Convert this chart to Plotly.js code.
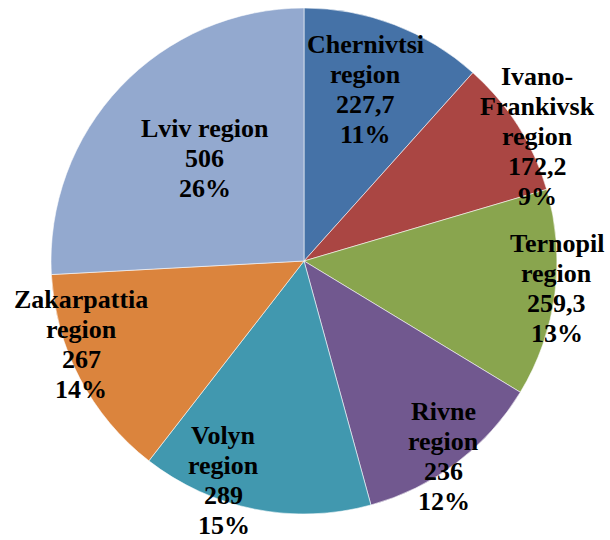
<!DOCTYPE html>
<html>
<head>
<meta charset="utf-8">
<script src="https://cdn.plot.ly/plotly-3.0.1.min.js"></script>
<style>
html,body{margin:0;padding:0;background:#fff;}
#chart{width:610px;height:540px;}
</style>
</head>
<body>
<div id="chart"></div>
<script>
// ---- data ----
var regionNames = ["Chernivtsi region", "Ivano-Frankivsk region", "Ternopil region", "Rivne region", "Volyn region", "Zakarpattia region", "Lviv region"];
var regionValues = [227.7, 172.2, 259.3, 236, 289, 267, 506];
var percentLabels = ["11%", "9%", "13%", "12%", "15%", "14%", "26%"];
// label text lines as printed in the picture
var nameLines = [["Chernivtsi", "region"], ["Ivano-", "Frankivsk", "region"], ["Ternopil", "region"], ["Rivne", "region"], ["Volyn", "region"], ["Zakarpattia", "region"], ["Lviv region"]];

// ---- style ----
var sliceColors = ["#4572A7", "#AA4643", "#89A54E", "#71588F", "#4198AF", "#DB843D", "#93A9CF"];
var labelRadius = [0.72, 1.045, 1.005, 0.95, 0.925, 0.94, 0.565]; // fraction of pie radius
var labelNudge = [-1.1, 4.1, -1.3, 1.5, 8.8, 7.0, 2.6];          // degrees
var W = 610, H = 540;
var cx = 304, cy = 261, R = 253;  // pie placement in px
var lineH = 30, fontSize = 26;

var domX = [(cx - R) / W, (cx + R) / W];
var domY = [1 - (cy + R) / H, 1 - (cy - R) / H];

var trace = {
  type: "pie",
  labels: regionNames,
  values: regionValues,
  sort: false,
  direction: "clockwise",
  rotation: 0,
  textinfo: "none",
  hoverinfo: "label+value+percent",
  marker: {colors: sliceColors, line: {color: "rgba(255,255,255,0.7)", width: 0.8}},
  domain: {x: domX, y: domY},
  showlegend: false
};

// labels placed at slice mid-angles computed from the data
var total = regionValues.reduce(function(a, b){ return a + b; }, 0);
var annotations = [];
var cum = 0;
for (var i = 0; i < regionValues.length; i++) {
  var mid = (cum + regionValues[i] / 2) / total * 360 + labelNudge[i];
  cum += regionValues[i];
  var a = mid * Math.PI / 180;
  var px = cx + Math.sin(a) * R * labelRadius[i];
  var py = cy - Math.cos(a) * R * labelRadius[i];
  var lines = nameLines[i].concat([String(regionValues[i]).replace(".", ","), percentLabels[i]]);
  for (var k = 0; k < lines.length; k++) {
    var ly = py + (k - (lines.length - 1) / 2) * lineH;
    annotations.push({
      text: "<b>" + lines[k] + "</b>",
      x: px / W, y: 1 - ly / H,
      xref: "paper", yref: "paper",
      xanchor: "center", yanchor: "middle",
      showarrow: false,
      font: {family: "Liberation Serif, Times New Roman, serif", size: fontSize, color: "#000"}
    });
  }
}

var layout = {
  width: W, height: H,
  margin: {l: 0, r: 0, t: 0, b: 0},
  paper_bgcolor: "#fff",
  plot_bgcolor: "#fff",
  annotations: annotations
};

Plotly.newPlot("chart", [trace], layout, {displayModeBar: false, staticPlot: true});
</script>
</body>
</html>
